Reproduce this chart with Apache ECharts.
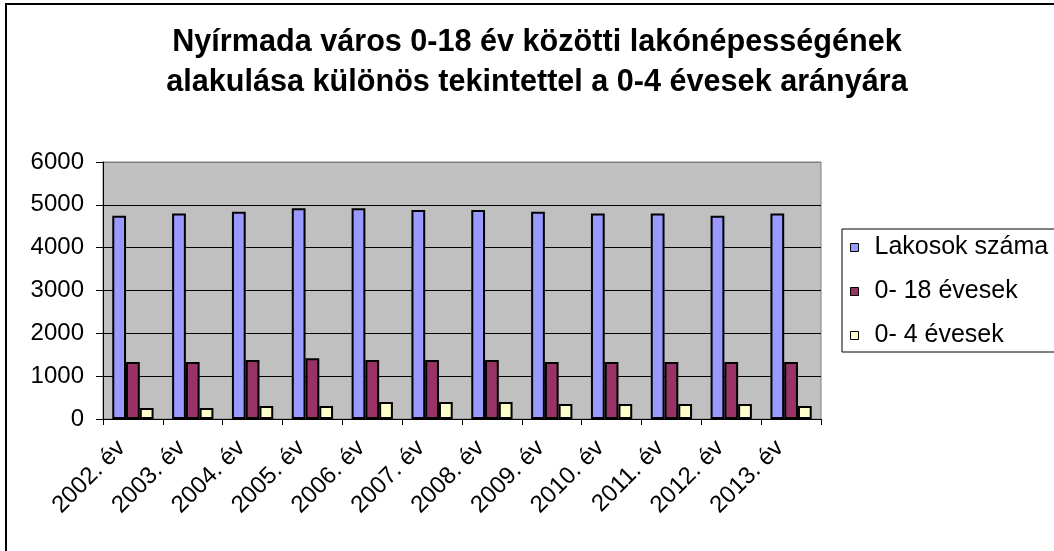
<!DOCTYPE html>
<html>
<head>
<meta charset="utf-8">
<script src="https://cdn.jsdelivr.net/npm/echarts@6/dist/echarts.min.js"></script>
<style>
html,body{margin:0;padding:0;background:#fff;}
#chart{width:1054px;height:551px;}
</style>
</head>
<body>
<div id="chart"></div>
<script>
const titleLines = ['Nyírmada város 0-18 év közötti lakónépességének', 'alakulása különös tekintettel a 0-4 évesek arányára'];
const categories = ['2002. év','2003. év','2004. év','2005. év','2006. év','2007. év','2008. év','2009. év','2010. év','2011. év','2012. év','2013. év'];
const seriesNames = ['Lakosok száma', '0- 18 évesek', '0- 4 évesek'];
const lakosok = [4745, 4800, 4840, 4918, 4918, 4878, 4878, 4840, 4800, 4800, 4745, 4800];
const kor0_18 = [1332, 1332, 1380, 1419, 1380, 1380, 1380, 1332, 1332, 1332, 1332, 1332];
const kor0_4 = [257, 257, 304, 304, 397, 397, 397, 350, 350, 350, 350, 304];
const yTicks = [0, 1000, 2000, 3000, 4000, 5000, 6000];

const FONT = 'Liberation Sans, Arial, sans-serif';
const chart = echarts.init(document.getElementById('chart'));
const barColors = ['#9999FF', '#993366', '#FFFFCC'];
const dataSets = [lakosok, kor0_18, kor0_4];

chart.setOption({
  animation: false,
  backgroundColor: '#ffffff',
  graphic: [
    { type: 'rect', shape: { x: 6, y: 4, width: 1100, height: 600 }, style: { fill: 'none', stroke: '#000', lineWidth: 2 }, z: 0 },
    { type: 'rect', shape: { x: 842, y: 229, width: 300, height: 123 }, style: { fill: '#fff', stroke: '#000', lineWidth: 1 }, z: 1 },
    { type: 'text', style: { text: titleLines.join('\n'), x: 537, y: 23, textAlign: 'center', font: 'bold 30.6px ' + FONT, lineHeight: 40, fill: '#000' }, z: 2 }
  ],
  legend: {
    orient: 'vertical',
    left: 845, top: 230,
    itemWidth: 8, itemHeight: 8,
    itemGap: 19,
    icon: 'rect',
    textStyle: { fontFamily: FONT, fontSize: 25, color: '#000', lineHeight: 25, padding: [0, 0, 0, 11] },
    itemStyle: { borderColor: '#000', borderWidth: 1 },
    data: seriesNames,
    z: 5
  },
  grid: {
    left: 103, right: 233, top: 162, bottom: 132,
    show: true, backgroundColor: '#C0C0C0', borderColor: '#808080', borderWidth: 1
  },
  xAxis: {
    type: 'category',
    data: categories,
    axisLine: { lineStyle: { color: '#000', width: 1 } },
    axisTick: { show: true, length: 6, lineStyle: { color: '#000' } },
    axisLabel: { interval: 0, rotate: 45, margin: 14, padding: [0, 16, 0, 0], fontFamily: FONT, fontSize: 24, color: '#000' }
  },
  yAxis: {
    type: 'value', min: 0, max: 6000, interval: 1000,
    axisLine: { show: true, lineStyle: { color: '#000', width: 1 } },
    axisTick: { show: true, length: 7, lineStyle: { color: '#000' } },
    axisLabel: { margin: 19, fontFamily: FONT, fontSize: 24, color: '#000',
      formatter: v => yTicks.includes(v) ? String(v) : '' },
    splitLine: { show: true, lineStyle: { color: ['#000','#000','#000','#000','#000','#000','#808080'], width: 1 } }
  },
  series: seriesNames.map((name, i) => ({
    name, type: 'bar', data: dataSets[i],
    barGap: '0%', barCategoryGap: '31%',
    itemStyle: { color: barColors[i], borderColor: '#000', borderWidth: 2 }
  }))
});
</script>
</body>
</html>
